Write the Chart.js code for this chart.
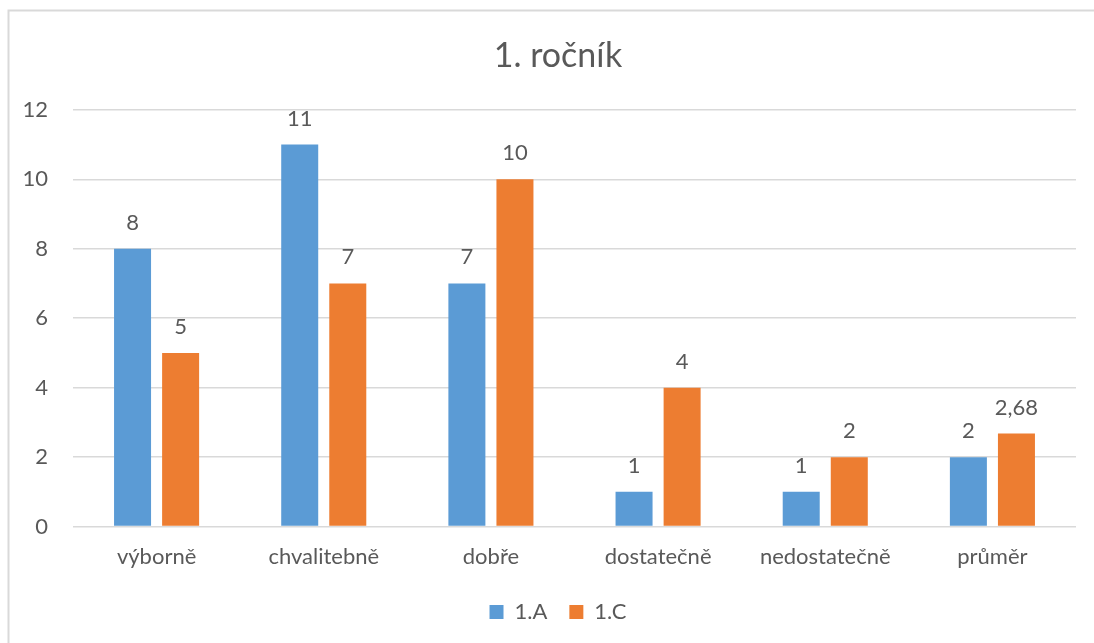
<!DOCTYPE html>
<html lang="cs">
<head>
<meta charset="utf-8">
<title>1. ročník</title>
<script src="https://cdn.jsdelivr.net/npm/chart.js@4/dist/chart.umd.min.js"></script>
<style>
  html, body { margin: 0; padding: 0; background: #ffffff; }
  #wrap { position: relative; width: 1094px; height: 643px; }
</style>
</head>
<body>
<div id="wrap"><canvas id="chart" width="1094" height="643"></canvas></div>
<script>
// Grade distribution of the first-year classes
const categories = ['výborně', 'chvalitebně', 'dobře', 'dostatečně', 'nedostatečně', 'průměr'];
const class1A = [8, 11, 7, 1, 1, 2];
const class1C = [5, 7, 10, 4, 2, 2.68];
const seriesNames = ['1.A', '1.C'];
const yTicks = [0, 2, 4, 6, 8, 10, 12];

const FONT = 'Lato, "Open Sans", sans-serif';
const TEXT = '#595959';
const GRID = '#d9d9d9';

const fmt = v => String(v).replace('.', ',');

// Thin frame along the top and left edges of the chart object
const framePlugin = {
  id: 'frame',
  beforeDraw(chart) {
    const ctx = chart.ctx;
    ctx.save();
    ctx.strokeStyle = GRID;
    ctx.lineWidth = 2;
    ctx.beginPath();
    ctx.moveTo(8.5, chart.height);
    ctx.lineTo(8.5, 10.5);
    ctx.lineTo(chart.width, 10.5);
    ctx.stroke();
    ctx.restore();
  }
};

// Let the y tick labels use the left margin as well (labels are clipped to the scale box)
const widenYAxis = {
  id: 'widenYAxis',
  afterLayout(chart) {
    const y = chart.scales.y;
    y.left = 0;
    y.width = y.right;
  }
};

// Value labels above each bar
const valueLabels = {
  id: 'valueLabels',
  afterDatasetsDraw(chart) {
    const ctx = chart.ctx;
    ctx.save();
    ctx.font = '22px ' + FONT;
    ctx.fillStyle = TEXT;
    ctx.textAlign = 'center';
    ctx.textBaseline = 'alphabetic';
    chart.data.datasets.forEach((ds, i) => {
      chart.getDatasetMeta(i).data.forEach((bar, j) => {
        ctx.fillText(fmt(ds.data[j]), bar.x, bar.y - 19);
      });
    });
    ctx.restore();
  }
};

new Chart(document.getElementById('chart'), {
  type: 'bar',
  data: {
    labels: categories,
    datasets: [
      { label: seriesNames[0], data: class1A, backgroundColor: '#5b9bd5' },
      { label: seriesNames[1], data: class1C, backgroundColor: '#ed7d31' }
    ]
  },
  options: {
    responsive: false,
    animation: false,
    devicePixelRatio: 1,
    categoryPercentage: 0.575,
    barPercentage: 0.77,
    layout: { padding: { left: 40, right: 18, top: 0, bottom: 10 } },
    plugins: {
      title: {
        display: true,
        text: '1. ročník',
        color: TEXT,
        font: { family: FONT, size: 34, weight: 'normal' },
        padding: { top: 36, bottom: 33 }
      },
      legend: {
        position: 'bottom',
        labels: {
          color: TEXT,
          font: { family: FONT, size: 22 },
          boxWidth: 14,
          boxHeight: 14,
          padding: 22
        }
      },
      tooltip: { enabled: false }
    },
    scales: {
      x: {
        grid: { display: false },
        border: { display: false },
        ticks: {
          color: TEXT,
          font: { family: FONT, size: 22 },
          padding: 9,
          maxRotation: 0
        }
      },
      y: {
        min: 0,
        max: 12,
        afterBuildTicks(scale) { scale.ticks = yTicks.map(v => ({ value: v })); },
        afterFit(scale) { scale.width = 33; },
        grid: { color: GRID, lineWidth: 1.5, drawTicks: false },
        border: { display: false },
        ticks: {
          color: TEXT,
          font: { family: FONT, size: 22 },
          padding: 25
        }
      }
    }
  },
  plugins: [framePlugin, widenYAxis, valueLabels]
});
</script>
</body>
</html>
